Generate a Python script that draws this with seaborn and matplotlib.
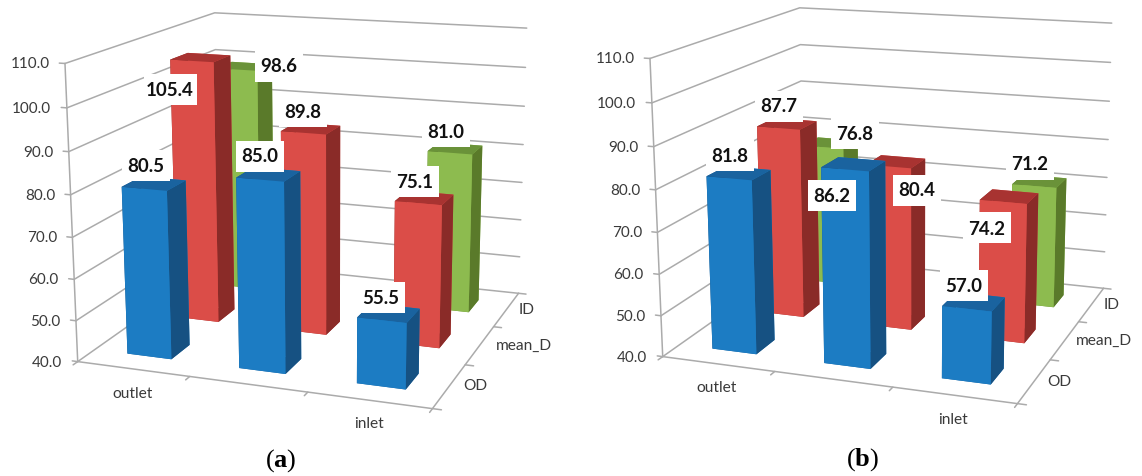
import numpy as np
import matplotlib
matplotlib.use("Agg")
import matplotlib.pyplot as plt
from matplotlib.patches import Rectangle
import seaborn as sns
from mpl_toolkits.mplot3d import proj3d

W, H = 1142, 476

# values (ID has no bar at the middle position)
depth_names = ["OD", "mean_D", "ID"]
od_a = [80.5, 85.0, 55.5]
mean_a = [105.4, 89.8, 75.1]
id_a = [98.6, None, 81.0]
od_b = [81.8, 86.2, 57.0]
mean_b = [87.7, 80.4, 74.2]
id_b = [76.8, None, 71.2]
z_ticks = [40, 50, 60, 70, 80, 90, 100, 110]

# front, side, top
blue = ["#1C7CC3", "#165182", "#1A639F"]
red = ["#DB4D48", "#8A2B28", "#A83331"]
green = ["#8DBB4F", "#5A7A2A", "#6A9239"]

grid_col = "#ABABAB"
text_col = "#3A3A3A"

# camera fitted to the corners of the 3D box, both panels use the same one
view = dict(elev=14.42, azim=-70.04, roll=0.197, f=0.5254, aspect=(1.2176, 1.1924, 1))
rect_a = (0.0226, 0.0051, 0.4866)
rect_b = (0.0226 + 585 / W, 0.0051 + 5 / H, 0.4866)

# label centres in pixels of the image
value_pos_a = [[(146, 166), (260, 157), (381, 298)], [(170, 90), (303, 113), (415, 182)], [(279, 67), None, (446, 132)]]
value_pos_b = [[(730, 156), (832, 196), (964, 286)], [(779, 107), (917, 191), (987, 229)], [(855, 134), None, (1030, 165)]]
cat_pos_a = {"outlet": (133, 394), "inlet": (369, 424), "ID": (527, 310), "mean_D": (524, 346), "OD": (475, 386)}
cat_pos_b = {"outlet": (717, 388), "inlet": (953, 420), "ID": (1112, 305), "mean_D": (1104, 341), "OD": (1059, 382)}

sns.set_theme(style="white")
plt.rcParams["font.family"] = ["Lato", "DejaVu Sans"]
plt.rcParams["mathtext.fontset"] = "custom"
plt.rcParams["mathtext.rm"] = "Liberation Serif"
plt.rcParams["mathtext.bf"] = "Liberation Serif:bold"

fig = plt.figure(figsize=(W / 100, H / 100), dpi=100)


def px_text(x, y, s, **kw):
    fig.text(x / W, 1 - y / H, s, ha="center", va="center", **kw)


def value_label(x, y, val):
    s = f"{val:.1f}"
    bw = 53 if len(s) == 5 else 48
    # white box a little roomier than the text
    fig.add_artist(Rectangle(((x - bw / 2) / W, 1 - (y + 14.5) / H), bw / W, 31 / H, transform=fig.transFigure,
                             facecolor="white", edgecolor="none", zorder=4))
    px_text(x, y, s, fontsize=13.5, fontweight="bold", color="#111111", zorder=5)


def draw_panel(series, rect, value_pos, cat_pos, caption, cap_xy):
    l, b, w = rect
    ax = fig.add_axes([l, b, w, w * W / H], projection="3d")
    ax.patch.set_alpha(0)
    ax.set_xlim(0, 3)
    ax.set_ylim(0, 3)
    ax.set_zlim(40, 110)
    ax.set_box_aspect(view["aspect"])
    ax.view_init(elev=view["elev"], azim=view["azim"], roll=view["roll"])
    ax.set_proj_type("persp", focal_length=view["f"])
    ax.computed_zorder = False
    ax.set_axis_off()

    line = dict(color=grid_col, lw=1.1, zorder=1, solid_capstyle="round")
    for z in z_ticks:
        ax.plot([0, 0, 3], [0, 3, 3], [z, z, z], **line)
        ax.plot([-0.05, 0], [0, 0], [z, z], **line)
    ax.plot([0, 0], [0, 0], [40, 110], **line)
    ax.plot([0, 3, 3], [0, 0, 3], [40, 40, 40], **line)
    for t in range(4):
        ax.plot([t, t], [-0.08, 0], [40, 40], **line)
        ax.plot([3, 3.07], [t, t], [40, 40], **line)

    # back row first so the nearer bars cover it
    z_order = 2
    for row in [2, 1, 0]:
        values, cols = series[row]
        for i, val in enumerate(values):
            if val is None:
                continue
            # faces: bottom, top, front, back, left, right
            face = [cols[2], cols[2], cols[0], cols[0], cols[1], cols[1]]
            ax.bar3d(i + 0.30, row + 0.31, 40, 0.40, 0.37, val - 40, color=face,
                     shade=False, linewidth=0, edgecolor="none", zorder=z_order)
            z_order += 1

    # tick labels next to the axis, offset in pixels
    M = ax.get_proj()
    for z in z_ticks:
        u, v, _ = proj3d.proj_transform(0, 0, z, M)
        ax.annotate(f"{z:.1f}", xy=(u, v), xycoords="data", xytext=(-15.5, -1), textcoords="offset pixels",
                    ha="right", va="center", fontsize=11, color=text_col, annotation_clip=False)

    for name, (x, y) in cat_pos.items():
        px_text(x, y, name, fontsize=11.2, color=text_col)

    for row in range(3):
        for val, pos in zip(series[row][0], value_pos[row]):
            if val is not None:
                value_label(pos[0], pos[1], val)

    px_text(cap_xy[0], cap_xy[1], caption, fontsize=19, color="black")


draw_panel([(od_a, blue), (mean_a, red), (id_a, green)], rect_a, value_pos_a, cat_pos_a,
           r"$\mathrm{(}\mathbf{a}\mathrm{)}$", (281, 461))
draw_panel([(od_b, blue), (mean_b, red), (id_b, green)], rect_b, value_pos_b, cat_pos_b,
           r"$\mathrm{(}\mathbf{b}\mathrm{)}$", (863, 460))

fig.savefig("out.png", dpi=100)
